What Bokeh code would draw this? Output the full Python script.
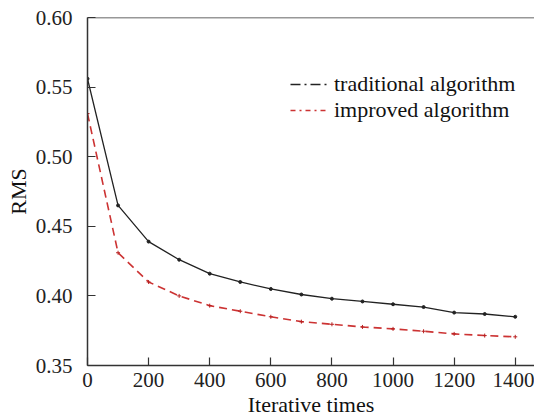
from bokeh.plotting import figure
from bokeh.models import Range1d, FixedTicker, NumeralTickFormatter, Legend, LegendItem, Span
from bokeh.embed import file_html
from bokeh.resources import INLINE

iterations = [0, 100, 200, 300, 400, 500, 600, 700, 800, 900, 1000, 1100, 1200, 1300, 1400]
traditional = [0.556, 0.465, 0.439, 0.426, 0.416, 0.410, 0.405, 0.401, 0.398, 0.396, 0.394, 0.392, 0.388, 0.387, 0.385]
improved = [0.531, 0.431, 0.410, 0.400, 0.393, 0.389, 0.385, 0.3815, 0.3796, 0.3777, 0.3763, 0.3746, 0.3727, 0.3715, 0.3706]
x_ticks = [0, 200, 400, 600, 800, 1000, 1200, 1400]
y_ticks = [0.35, 0.40, 0.45, 0.50, 0.55, 0.60]

FONT = "Liberation Serif"

p = figure(width=534, height=419, output_backend="svg", toolbar_location=None,
           x_range=Range1d(0, 1463), y_range=Range1d(0.35, 0.60),
           min_border_left=87, min_border_right=0, min_border_top=17, min_border_bottom=53)
p.grid.visible = False
p.outline_line_color = None
p.background_fill_color = "white"

for ax in (p.xaxis[0], p.yaxis[0]):
    ax.axis_line_color = "#333333"
    ax.axis_line_width = 1.5
    ax.major_tick_line_color = "#333333"
    ax.major_tick_line_width = 1.2
    ax.major_tick_in = 8
    ax.major_tick_out = 0
    ax.minor_tick_line_color = None
    ax.major_label_text_font = FONT
    ax.major_label_text_font_size = "21px"
    ax.major_label_text_color = "#222222"
    ax.axis_label_text_font = FONT
    ax.axis_label_text_font_size = "22px"
    ax.axis_label_text_font_style = "normal"
    ax.axis_label_text_color = "#111111"

p.xaxis.ticker = FixedTicker(ticks=x_ticks)
p.yaxis.ticker = FixedTicker(ticks=y_ticks)
p.yaxis.formatter = NumeralTickFormatter(format="0.00")
p.xaxis.axis_label = "Iterative times"
p.yaxis.axis_label = "RMS"
p.xaxis.major_label_standoff = 7
p.xaxis.axis_label_standoff = 2
p.yaxis.major_label_standoff = 15
p.yaxis.axis_label_standoff = 2

p.add_layout(Span(location=0.60, dimension="width", line_color="#333333", line_width=1.5))

p.line(iterations, traditional, line_color="#222222", line_width=1.3)
p.scatter(iterations, traditional, size=3, color="#222222")
p.line(iterations, improved, line_color="#cc3333", line_width=1.6, line_dash="8 5")
p.scatter(iterations, improved, size=4, color="#b82020", marker="cross", line_width=1)

# legend-only renderers carrying the reference legend styles (outside the visible range)
r1 = p.line([-500, -400], [0.0, 0.0], line_color="#222222", line_width=1.6, line_dash="10 4 2 4")
r2 = p.line([-500, -400], [0.0, 0.0], line_color="#cc3333", line_width=1.6, line_dash="5 4 2 4")
legend = Legend(items=[LegendItem(label="traditional algorithm", renderers=[r1]),
                       LegendItem(label="improved algorithm", renderers=[r2])],
                location=(203, 242))
legend.border_line_color = None
legend.background_fill_alpha = 0
legend.label_text_font = FONT
legend.label_text_font_size = "22px"
legend.label_text_color = "#111111"
legend.glyph_width = 38
legend.glyph_height = 18
legend.label_height = 18
legend.spacing = 0
legend.padding = 0
legend.label_standoff = 6
p.add_layout(legend)

open("out.html", "w").write(file_html(p, INLINE))
